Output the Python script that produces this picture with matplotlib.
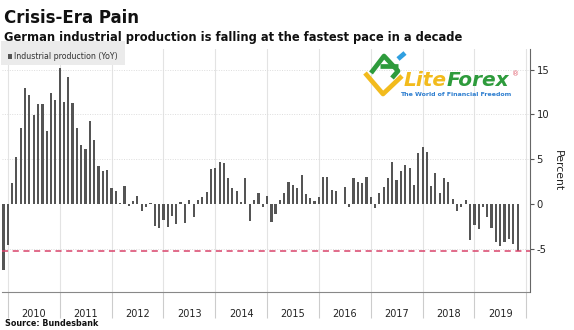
import matplotlib
matplotlib.use("Agg")
import matplotlib.pyplot as plt
from matplotlib.patches import Rectangle
from matplotlib.lines import Line2D
import pandas as pd

# ---- data (YoY %, monthly, Dec 2009 .. Nov 2019) ----
start_month = "2009-12-01"
values = [
    -7.37, -4.58, 2.31, 5.29, 8.53, 13.0, 12.18, 9.98, 11.17, 11.17, 8.12, 12.36, 11.66,   # Dec09-Dec10
    15.16, 11.4, 14.19, 11.25, 8.53, 6.55, 6.15, 9.27, 7.11, 4.25, 3.69, 3.80,             # 2011
    1.79, 1.49, 0.15, 2.01, -0.22, 0.37, 0.89, -0.74, -0.30, 0.07, -2.46, -2.72,           # 2012
    -1.79, -2.53, -1.34, -2.27, 0.26, -2.16, 0.48, -1.42, 0.41, 0.74, 1.38, 3.87,          # 2013
    3.99, 4.73, 4.54, 2.87, 1.75, 1.45, 0.26, 2.87, -1.86, 0.45, 1.19, -0.37,              # 2014
    0.93, -1.97, -1.15, 0.45, 1.19, 2.50, 2.09, 1.75, 3.28, 1.12, 0.63, 0.37,              # 2015
    0.74, 3.05, 3.02, 1.56, 1.45, 0.05, 1.86, -0.37, 2.87, 2.50, 2.35, 2.96,               # 2016
    0.82, -0.50, 1.19, 1.86, 2.87, 4.66, 2.68, 3.72, 4.36, 3.99, 2.12, 5.66,               # 2017
    6.33, 5.81, 2.01, 3.43, 1.19, 2.87, 2.50, 0.52, -0.74, -0.37, 0.45, -4.02,             # 2018
    -2.38, -2.83, -0.37, -1.49, -2.72, -4.28, -4.66, -4.21, -3.95, -4.47, -5.29,           # 2019
]
year_labels = ["2010", "2011", "2012", "2013", "2014", "2015", "2016", "2017", "2018", "2019"]
y_ticks = [-5, 0, 5, 10, 15]
reference_level = -5.25

title = "Crisis-Era Pain"
subtitle = "German industrial production is falling at the fastest pace in a decade"
legend_label = "Industrial production (YoY)"
source = "Source: Bundesbank"

dates = pd.date_range(start_month, periods=len(values), freq="MS")

W, H = 574, 330
fig = plt.figure(figsize=(W / 100, H / 100), dpi=100)

def fx(px):
    return px / W

def fy(py):
    return 1 - py / H

ax_left, ax_right, ax_top, ax_bottom = 2, 529.5, 49, 292
ax = fig.add_axes([fx(ax_left), fy(ax_bottom), fx(ax_right - ax_left), (ax_bottom - ax_top) / H])

bar_color = "#555555"
ax.bar(dates, values, width=15, color=bar_color, align="center", zorder=3)

ax.set_xlim(pd.Timestamp("2009-11-20"), pd.Timestamp("2020-01-24"))
ax.set_ylim(-9.83, 17.31)

# reference dashed line
ax.axhline(reference_level, color="#d9436a", lw=1.1, ls=(0, (4, 3)), zorder=4)

# x axis: year boundaries as major ticks, labels centered at mid-year (minor)
years = [int(y) for y in year_labels]
major = [pd.Timestamp(f"{y}-01-01") for y in years] + [pd.Timestamp(f"{years[-1] + 1}-01-01")]
minor = [pd.Timestamp(f"{y}-07-02") for y in years]
ax.set_xticks(major)
ax.set_xticklabels([""] * len(major))
ax.set_xticks(minor, minor=True)
ax.set_xticklabels(year_labels, minor=True)
ax.tick_params(axis="x", which="major", length=19, width=0.8, color="#cccccc", direction="out")
ax.tick_params(axis="x", which="minor", length=0, pad=12, labelsize=7, labelcolor="#222222")

# y axis on right
ax.yaxis.tick_right()
ax.set_yticks(y_ticks)
ax.set_yticklabels([str(v) for v in y_ticks])
ax.tick_params(axis="y", which="major", length=3, width=0.8, color="#555555", pad=2,
               labelsize=7.2, labelcolor="#222222")
ax.yaxis.set_label_position("right")
ax.set_ylabel("Percent", rotation=270, fontsize=7.8, color="#222222", labelpad=10)

# grid
for d in major:
    ax.axvline(d, color="#e3e3e3", lw=0.8, zorder=1)
for v in [-5, 5, 10, 15]:
    ax.axhline(v, color="#dddddd", lw=0.7, ls=(0, (1, 1.5)), zorder=1)

for s in ["top", "left"]:
    ax.spines[s].set_visible(False)
ax.spines["right"].set_color("#666666")
ax.spines["right"].set_linewidth(0.8)
ax.spines["bottom"].set_color("#888888")
ax.spines["bottom"].set_linewidth(0.8)

# titles
fig.text(fx(4), fy(18), title, fontsize=12, fontweight="bold", va="center", ha="left", color="#111111")
fig.text(fx(4), fy(37), subtitle, fontsize=8.3, fontweight="bold", va="center", ha="left", color="#111111")
fig.text(fx(5), fy(324), source, fontsize=5.8, fontweight="bold", va="center", ha="left", color="#111111")

# legend box
fig.patches.append(Rectangle((fx(1), fy(65)), fx(124), 24 / H, transform=fig.transFigure,
                             facecolor="#ebebeb", edgecolor="none", zorder=5))
fig.patches.append(Rectangle((fx(8), fy(58.5)), fx(4), 4.5 / H, transform=fig.transFigure,
                             facecolor=bar_color, edgecolor="none", zorder=6))
fig.text(fx(14.5), fy(56.5), legend_label, fontsize=5.7, va="center", ha="left", color="#333333", zorder=7)

# watermark logo (approximation)
logo_lines = [
    ([365, 383, 402], [73, 94, 76], "#f2bb1d"),
    ([371, 384, 398, 392], [73, 56, 71, 78], "#2e9b3c"),
    ([380, 398], [66, 66], "#2e9b3c"),
    ([398, 405], [59, 53], "#2f9fe0"),
]
for xs, ys, c in logo_lines:
    fig.lines.append(Line2D([fx(x) for x in xs], [fy(y) for y in ys], transform=fig.transFigure,
                            color=c, lw=3.4, solid_capstyle="butt", zorder=8))
t1 = fig.text(fx(404), fy(81), "Lite", fontsize=14.5, fontweight="bold", fontstyle="italic",
              va="center", ha="left", color="#f2bb1d", zorder=8)
fig.canvas.draw()
bb = t1.get_window_extent()
fig.text(bb.x1 / W, fy(81), "Forex", fontsize=14.5, fontweight="bold", fontstyle="italic",
         va="center", ha="left", color="#2e9b3c", zorder=8)
fig.text(fx(516), fy(74), "®", fontsize=5, va="center", ha="center", color="#e05a6a", zorder=8)
fig.text(fx(400), fy(95), "The World of Financial Freedom", fontsize=4.5, fontweight="bold",
         va="center", ha="left", color="#2f7fd0", zorder=8)

fig.savefig("out.png", dpi=100)
